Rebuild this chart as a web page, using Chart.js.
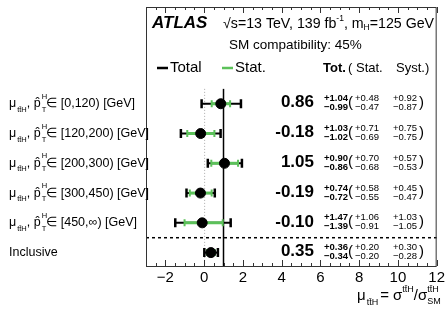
<!DOCTYPE html>
<html>
<head>
<meta charset="utf-8">
<script src="https://cdn.jsdelivr.net/npm/chart.js@4.4.1/dist/chart.umd.min.js"></script>
<style>
  body { margin: 0; background: #fff; }
  canvas { display: block; }
</style>
</head>
<body>
<canvas id="chart" width="448" height="324"></canvas>
<script>
// bins of the Higgs pT measurement, top to bottom
const binRanges = ['[0,120)', '[120,200)', '[200,300)', '[300,450)', '[450,\u221E)', 'Inclusive'];
const rowPos = [5.5, 4.5, 3.5, 2.5, 1.5, 0.5];

const mu = [0.86, -0.18, 1.05, -0.19, -0.10, 0.35];
const totUp = [1.04, 1.03, 0.90, 0.74, 1.47, 0.36];
const totDn = [0.99, 1.02, 0.86, 0.72, 1.39, 0.34];
const statUp = [0.48, 0.71, 0.70, 0.58, 1.06, 0.20];
const statDn = [0.47, 0.69, 0.68, 0.55, 0.91, 0.20];
const systUp = [0.92, 0.75, 0.57, 0.45, 1.03, 0.30];
const systDn = [0.87, 0.75, 0.53, 0.47, 1.05, 0.28];

const xTickLabels = [-2, 0, 2, 4, 6, 8, 10, 12];

const GREEN = '#5cc15a';
const FONT = '"Liberation Sans", Arial, Helvetica, sans-serif';

function fmt(v) { return v.toFixed(2); }

// draws a string made of pieces, each with its own font size / shift
function drawPieces(ctx, x, y, pieces) {
  let cx = x;
  pieces.forEach(p => {
    ctx.font = (p.bold ? 'bold ' : '') + p.size + 'px ' + FONT;
    ctx.fillText(p.t, cx, y + (p.dy || 0));
    if (!p.stack) cx += ctx.measureText(p.t).width + (p.gap || 0);
  });
  return cx;
}

const atlasPlugin = {
  id: 'atlas',
  beforeDatasetsDraw(chart) {
    const ctx = chart.ctx;
    const xs = chart.scales.x, ys = chart.scales.y;
    const a = chart.chartArea;
    ctx.save();

    // SM line and zero line
    const yTopLines = ys.getPixelForValue(6.0);
    ctx.strokeStyle = '#000';
    ctx.lineWidth = 1.5;
    ctx.beginPath();
    ctx.moveTo(xs.getPixelForValue(1), yTopLines);
    ctx.lineTo(xs.getPixelForValue(1), a.bottom);
    ctx.stroke();

    ctx.strokeStyle = '#aaa';
    ctx.lineWidth = 1;
    ctx.setLineDash([1, 2]);
    ctx.beginPath();
    ctx.moveTo(xs.getPixelForValue(0) + 0.5, yTopLines);
    ctx.lineTo(xs.getPixelForValue(0) + 0.5, a.bottom);
    ctx.stroke();

    // separator for inclusive
    ctx.strokeStyle = '#000';
    ctx.lineWidth = 1.5;
    ctx.setLineDash([3, 3]);
    ctx.beginPath();
    ctx.moveTo(a.left, ys.getPixelForValue(1));
    ctx.lineTo(a.right, ys.getPixelForValue(1));
    ctx.stroke();
    ctx.setLineDash([]);

    // error bars
    mu.forEach((m, i) => {
      const y = ys.getPixelForValue(rowPos[i]);
      const t1 = xs.getPixelForValue(m - totDn[i]);
      const t2 = xs.getPixelForValue(m + totUp[i]);
      ctx.strokeStyle = '#000';
      ctx.lineWidth = 2;
      ctx.beginPath();
      ctx.moveTo(t1, y); ctx.lineTo(t2, y);
      ctx.stroke();
      ctx.lineWidth = 2.5;
      ctx.beginPath();
      ctx.moveTo(t1, y - 4.5); ctx.lineTo(t1, y + 4.5);
      ctx.moveTo(t2, y - 4.5); ctx.lineTo(t2, y + 4.5);
      ctx.stroke();

      const s1 = xs.getPixelForValue(m - statDn[i]);
      const s2 = xs.getPixelForValue(m + statUp[i]);
      ctx.strokeStyle = GREEN;
      ctx.lineWidth = 3;
      ctx.beginPath();
      ctx.moveTo(s1, y); ctx.lineTo(s2, y);
      ctx.stroke();
      ctx.lineWidth = 2;
      ctx.beginPath();
      ctx.moveTo(s1, y - 3.5); ctx.lineTo(s1, y + 3.5);
      ctx.moveTo(s2, y - 3.5); ctx.lineTo(s2, y + 3.5);
      ctx.stroke();
    });
    ctx.restore();
  },
  afterDraw(chart) {
    const ctx = chart.ctx;
    const xs = chart.scales.x, ys = chart.scales.y;
    const a = chart.chartArea;
    ctx.save();

    // frame
    ctx.strokeStyle = '#333';
    ctx.lineWidth = 1;
    ctx.strokeRect(a.left + 0.5, a.top + 0.5, a.right - a.left - 1, a.bottom - a.top);

    // ROOT style ticks, pointing inward, top and bottom
    ctx.beginPath();
    for (let v = -3; v <= 12; v += 0.5) {
      const px = Math.round(xs.getPixelForValue(v)) + 0.5;
      const len = (v % 2 === 0) ? 6 : 3;
      ctx.moveTo(px, a.bottom); ctx.lineTo(px, a.bottom - len);
      ctx.moveTo(px, a.top); ctx.lineTo(px, a.top + len);
    }
    ctx.stroke();

    ctx.fillStyle = '#000';
    ctx.textBaseline = 'middle';
    ctx.textAlign = 'left';

    // header texts
    ctx.font = 'italic bold 17px ' + FONT;
    ctx.fillText('ATLAS', 152, 23);
    drawPieces(ctx, 223, 24, [
      { t: '\u221As=13 TeV, 139 fb', size: 14.2 },
      { t: '-1', size: 8.5, dy: -5 },
      { t: ', m', size: 14.2 },
      { t: 'H', size: 8.5, dy: 4 },
      { t: '=125 GeV', size: 14.2 }
    ]);
    ctx.font = '13.5px ' + FONT;
    ctx.fillText('SM compatibility: 45%', 229, 45);

    // legend
    const yLeg = 68;
    ctx.lineWidth = 2.5;
    ctx.strokeStyle = '#000';
    ctx.beginPath(); ctx.moveTo(157, yLeg); ctx.lineTo(168, yLeg); ctx.stroke();
    ctx.strokeStyle = GREEN;
    ctx.beginPath(); ctx.moveTo(222, yLeg); ctx.lineTo(233, yLeg); ctx.stroke();
    ctx.font = '15px ' + FONT;
    ctx.fillText('Total', 170, yLeg);
    ctx.fillText('Stat.', 235, yLeg);
    ctx.font = 'bold 13px ' + FONT;
    ctx.fillText('Tot.', 323, yLeg);
    ctx.font = '13px ' + FONT;
    ctx.fillText('(', 348, yLeg);
    ctx.fillText('Stat.', 356, yLeg);
    ctx.fillText('Syst.)', 396, yLeg);

    // per-row values
    mu.forEach((m, i) => {
      const y = ys.getPixelForValue(rowPos[i]);
      ctx.textAlign = 'right';
      ctx.font = 'bold 17px ' + FONT;
      ctx.fillText(fmt(m), 314, y - 1);
      ctx.textAlign = 'left';
      ctx.font = 'bold 9.5px ' + FONT;
      ctx.fillText('+' + fmt(totUp[i]), 324, y - 5);
      ctx.fillText('\u2212' + fmt(totDn[i]), 324, y + 4);
      ctx.font = '15px ' + FONT;
      ctx.fillText('(', 348, y - 1);
      ctx.fillText(')', 419, y - 1);
      ctx.font = '9.5px ' + FONT;
      ctx.fillText('+' + fmt(statUp[i]), 355, y - 5);
      ctx.fillText('\u2212' + fmt(statDn[i]), 355, y + 4);
      ctx.fillText('+' + fmt(systUp[i]), 393, y - 5);
      ctx.fillText('\u2212' + fmt(systDn[i]), 393, y + 4);

      // row labels on the left
      if (binRanges[i] === 'Inclusive') {
        ctx.font = '12.5px ' + FONT;
        ctx.fillText('Inclusive', 9, y);
      } else {
        drawPieces(ctx, 9, y, [
          { t: '\u03BC', size: 12.5, gap: 1 },
          { t: 'tt\u0304H', size: 7.5, dy: 6 },
          { t: ', p\u0302', size: 12.5, gap: 1 },
          { t: 'H', size: 7.5, dy: -7, stack: true },
          { t: 'T', size: 7.5, dy: 6 },
          { t: '\u2208 ' + binRanges[i] + ' [GeV]', size: 12.5 }
        ]);
      }
    });

    // x axis title
    ctx.textAlign = 'left';
    drawPieces(ctx, 357, 296, [
      { t: '\u03BC', size: 15, gap: 1 },
      { t: 'tt\u0304H', size: 9, dy: 7, gap: 2 },
      { t: '= \u03C3', size: 15 },
      { t: 'tt\u0304H', size: 9, dy: -6 },
      { t: '/\u03C3', size: 15 },
      { t: 'tt\u0304H', size: 9, dy: -6, stack: true },
      { t: 'SM', size: 9, dy: 6 }
    ]);
    ctx.restore();
  }
};

new Chart(document.getElementById('chart'), {
  type: 'scatter',
  data: {
    datasets: [{
      data: mu.map((m, i) => ({ x: m, y: rowPos[i] })),
      pointRadius: 5,
      pointHoverRadius: 5,
      backgroundColor: '#000',
      borderColor: '#000'
    }]
  },
  options: {
    responsive: false,
    animation: false,
    devicePixelRatio: 1,
    layout: { padding: { left: 146, right: 11, top: 7, bottom: 0 } },
    plugins: { legend: { display: false }, tooltip: { enabled: false } },
    scales: {
      x: {
        type: 'linear',
        min: -3,
        max: 12,
        afterBuildTicks: scale => {
          scale.ticks = xTickLabels.map(v => ({ value: v }));
        },
        ticks: {
          autoSkip: false,
          maxRotation: 0,
          padding: 3,
          color: '#000',
          font: { size: 15, family: FONT },
          callback: v => (v < 0 ? '\u2212' + Math.abs(v) : String(v))
        },
        grid: { display: false, drawTicks: false },
        border: { display: false },
        afterFit: scale => { scale.height = 58; }
      },
      y: { type: 'linear', display: false, min: 0.05, max: 8.75 }
    }
  },
  plugins: [atlasPlugin]
});
</script>
</body>
</html>
